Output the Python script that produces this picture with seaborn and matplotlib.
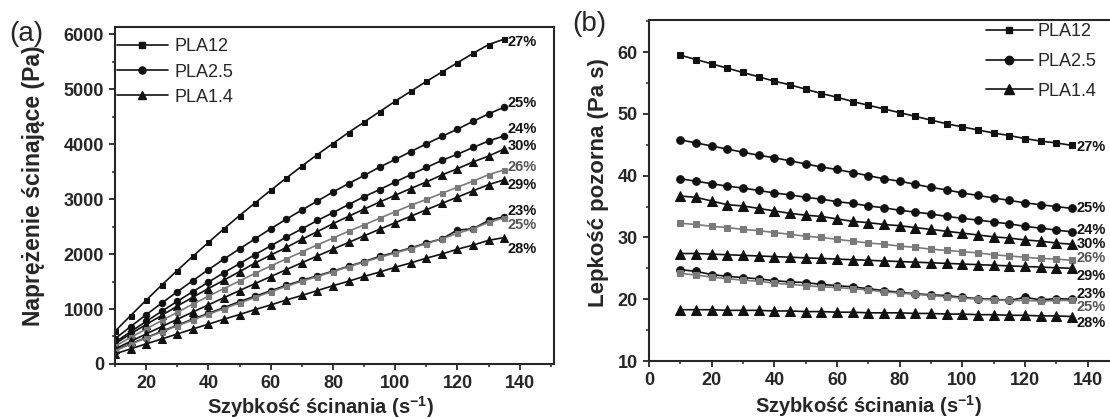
import matplotlib
matplotlib.use('Agg')
import matplotlib.pyplot as plt
import matplotlib.ticker as mticker
from matplotlib.lines import Line2D
import seaborn as sns


# szybkość ścinania (s^-1)
shear_rate = [10, 15, 20, 25, 30, 35, 40, 45, 50, 55, 60, 65, 70,
              75, 80, 85, 90, 95, 100, 105, 110, 115, 120, 125, 130, 135]

# naprężenie ścinające (Pa), panel (a)
stress_pla12_27 = [595, 880, 1160, 1435, 1700, 1960, 2210, 2460, 2700, 2930, 3160, 3380, 3600,
                   3810, 4010, 4210, 4400, 4590, 4780, 4960, 5140, 5310, 5480, 5650, 5810, 5910]
stress_pla25_25 = [458, 680, 896, 1108, 1314, 1516, 1716, 1908, 2095, 2277, 2460, 2633, 2800,
                   2963, 3128, 3281, 3429, 3582, 3720, 3864, 4004, 4140, 4272, 4413, 4550, 4670]
stress_pla25_24 = [395, 587, 774, 958, 1140, 1316, 1488, 1661, 1825, 1991, 2148, 2308, 2457,
                   2610, 2752, 2899, 3042, 3173, 3310, 3444, 3575, 3703, 3816, 3938, 4056, 4150]
stress_pla14_30 = [367, 548, 718, 883, 1053, 1215, 1372, 1526, 1680, 1837, 1980, 2119, 2268,
                   2408, 2552, 2686, 2817, 2945, 3070, 3192, 3311, 3439, 3552, 3675, 3783, 3910]
stress_pla12_26 = [323, 482, 636, 790, 939, 1089, 1232, 1373, 1510, 1650, 1782, 1911, 2037,
                   2168, 2288, 2414, 2529, 2651, 2770, 2888, 2992, 3105, 3216, 3325, 3445, 3530]
stress_pla14_29 = [274, 411, 546, 680, 813, 945, 1076, 1206, 1335, 1463, 1590, 1716, 1841,
                   1965, 2088, 2210, 2331, 2451, 2570, 2688, 2805, 2921, 3036, 3150, 3263, 3350]
stress_pla25_23 = [248, 368, 480, 593, 705, 816, 920, 1026, 1135, 1232, 1332, 1430, 1519,
                   1605, 1688, 1777, 1863, 1957, 2030, 2111, 2200, 2277, 2436, 2460, 2610, 2680]
stress_pla12_25 = [242, 359, 472, 583, 693, 802, 904, 1008, 1110, 1210, 1314, 1411, 1505,
                   1590, 1680, 1768, 1854, 1938, 2020, 2100, 2189, 2277, 2376, 2463, 2574, 2660]
stress_pla14_28 = [183, 275, 366, 455, 546, 637, 724, 815, 900, 990, 1074, 1164, 1246,
                   1335, 1424, 1505, 1593, 1672, 1760, 1838, 1925, 2001, 2088, 2163, 2249, 2300]

# lepkość pozorna (Pa s), panel (b)
visc_pla12_27 = [59.5, 58.8, 58.1, 57.4, 56.7, 56.0, 55.3, 54.7, 54.0, 53.3, 52.7, 52.0, 51.4,
                 50.8, 50.2, 49.6, 49.0, 48.4, 47.9, 47.4, 46.9, 46.5, 46.0, 45.6, 45.3, 44.9]
visc_pla25_25 = [45.8, 45.3, 44.8, 44.3, 43.8, 43.3, 42.9, 42.4, 41.9, 41.4, 41.0, 40.5, 40.0,
                 39.5, 39.1, 38.6, 38.1, 37.7, 37.2, 36.8, 36.4, 36.0, 35.6, 35.3, 35.0, 34.7]
visc_pla25_24 = [39.5, 39.1, 38.7, 38.3, 38.0, 37.6, 37.2, 36.9, 36.5, 36.2, 35.8, 35.5, 35.1,
                 34.8, 34.4, 34.1, 33.8, 33.4, 33.1, 32.8, 32.5, 32.2, 31.8, 31.5, 31.2, 30.9]
visc_pla14_30 = [36.7, 36.5, 35.9, 35.3, 35.1, 34.7, 34.3, 33.9, 33.6, 33.4, 33.0, 32.6, 32.4,
                 32.1, 31.9, 31.6, 31.3, 31.0, 30.7, 30.4, 30.1, 29.9, 29.6, 29.4, 29.1, 28.9]
visc_pla12_26 = [32.3, 32.1, 31.8, 31.6, 31.3, 31.1, 30.8, 30.5, 30.2, 30.0, 29.7, 29.4, 29.1,
                 28.9, 28.6, 28.4, 28.1, 27.9, 27.7, 27.5, 27.2, 27.0, 26.8, 26.6, 26.5, 26.3]
visc_pla14_29 = [27.4, 27.4, 27.3, 27.2, 27.1, 27.0, 26.9, 26.8, 26.7, 26.6, 26.5, 26.4, 26.3,
                 26.2, 26.1, 26.0, 25.9, 25.8, 25.7, 25.6, 25.5, 25.4, 25.3, 25.2, 25.1, 25.0]
visc_pla25_23 = [24.8, 24.5, 24.0, 23.7, 23.5, 23.3, 23.0, 22.8, 22.7, 22.4, 22.2, 22.0, 21.7,
                 21.4, 21.1, 20.9, 20.7, 20.6, 20.3, 20.1, 20.0, 19.8, 20.3, 19.9, 20.1, 20.0]
visc_pla12_25 = [24.2, 23.9, 23.6, 23.3, 23.1, 22.9, 22.6, 22.4, 22.2, 22.0, 21.9, 21.7, 21.5,
                 21.2, 21.0, 20.8, 20.6, 20.4, 20.2, 20.0, 19.9, 19.8, 19.8, 19.7, 19.8, 19.8]
visc_pla14_28 = [18.3, 18.3, 18.3, 18.2, 18.2, 18.2, 18.1, 18.1, 18.0, 18.0, 17.9, 17.9, 17.8,
                 17.8, 17.8, 17.7, 17.7, 17.6, 17.6, 17.5, 17.5, 17.4, 17.4, 17.3, 17.3, 17.2]

materials = ['PLA12', 'PLA2.5', 'PLA1.4']

# (etykieta, materiał, naprężenie, lepkość)
series = [
    ('27%', 'PLA12', stress_pla12_27, visc_pla12_27),
    ('25%', 'PLA2.5', stress_pla25_25, visc_pla25_25),
    ('24%', 'PLA2.5', stress_pla25_24, visc_pla25_24),
    ('30%', 'PLA1.4', stress_pla14_30, visc_pla14_30),
    ('26%', 'PLA12', stress_pla12_26, visc_pla12_26),
    ('29%', 'PLA1.4', stress_pla14_29, visc_pla14_29),
    ('23%', 'PLA2.5', stress_pla25_23, visc_pla25_23),
    ('25%', 'PLA12', stress_pla12_25, visc_pla12_25),
    ('28%', 'PLA1.4', stress_pla14_28, visc_pla14_28),
]

# wygląd
markers = {'PLA12': 's', 'PLA2.5': 'o', 'PLA1.4': '^'}
line_colors = ['#111111', '#111111', '#111111', '#111111', '#7a7a7a',
               '#111111', '#111111', '#7a7a7a', '#111111']
text_colors = ['#111111', '#111111', '#111111', '#111111', '#555555',
               '#111111', '#111111', '#555555', '#111111']
offsets_a = [-2, 3.3, 4.7, 2.4, 2.2, -3.6, 4, -5, -8.6]
offsets_b = [-1.2, 0, 1.4, 0, 1.4, -5.4, 3.6, -5, -4.3]

sns.set_theme(style='ticks')
plt.rcParams['font.family'] = ['Liberation Sans', 'DejaVu Sans']
plt.rcParams['mathtext.default'] = 'regular'
plt.rcParams['axes.linewidth'] = 1.5
plt.rcParams['xtick.major.width'] = 1.3
plt.rcParams['ytick.major.width'] = 1.3
plt.rcParams['xtick.minor.width'] = 1.1
plt.rcParams['ytick.minor.width'] = 1.1
plt.rcParams['xtick.major.size'] = 4.5
plt.rcParams['ytick.major.size'] = 4.5
plt.rcParams['xtick.minor.size'] = 2.5
plt.rcParams['ytick.minor.size'] = 2.5


def draw_panel(ax, which, sizes, offsets, dx):
    for i, (pct, mat, stress, visc) in enumerate(series):
        y = stress if which == 'a' else visc
        col = line_colors[i]
        sns.lineplot(x=shear_rate, y=y, ax=ax, color=col, linewidth=1.2,
                     marker=markers[mat], markersize=sizes[mat],
                     markeredgecolor=col, markerfacecolor=col,
                     estimator=None, sort=False)
        ax.annotate(pct, xy=(shear_rate[-1], y[-1]), xytext=(dx, offsets[i]),
                    textcoords='offset points', ha='left', va='center',
                    fontsize=10.5, fontweight='bold', color=text_colors[i],
                    annotation_clip=False)

    handles = [Line2D([], [], color='#111111', lw=1.2, marker=markers[m],
                      markersize=sizes[m] + 0.5) for m in materials]
    return handles


def style_axes(ax):
    ax.tick_params(which='both', direction='out', labelsize=13)
    for lab in ax.get_xticklabels() + ax.get_yticklabels():
        lab.set_fontweight('bold')
    for side in ['top', 'right']:
        ax.spines[side].set_visible(True)


fig = plt.figure(figsize=(11.1, 4.19), dpi=100)
ax_a = fig.add_axes([0.1036, 0.1313, 0.3955, 0.8043])
ax_b = fig.add_axes([0.5847, 0.1384, 0.4459, 0.8139])

# (a) naprężenie ścinające
h = draw_panel(ax_a, 'a', {'PLA12': 3.6, 'PLA2.5': 4.6, 'PLA1.4': 5.3}, offsets_a, 2.5)
ax_a.set_xlim(10, 151)
ax_a.set_ylim(0, 6130)
ax_a.xaxis.set_major_locator(mticker.MultipleLocator(20))
ax_a.xaxis.set_minor_locator(mticker.MultipleLocator(10))
ax_a.yaxis.set_major_locator(mticker.MultipleLocator(1000))
ax_a.yaxis.set_minor_locator(mticker.MultipleLocator(500))
ax_a.set_xlabel('Szybkość ścinania (s$^{-1}$)', fontsize=14.5, fontweight='bold')
ax_a.set_ylabel('Naprężenie ścinające (Pa)', fontsize=16.5, fontweight='bold')
ax_a.xaxis.set_label_coords(0.467, -0.088)
ax_a.yaxis.set_label_coords(-0.159, 0.53)
ax_a.legend(h, materials, loc='upper left', bbox_to_anchor=(0.005, 0.966), frameon=False,
            fontsize=13, handlelength=2.8, handletextpad=0.4, labelspacing=0.45,
            borderpad=0, borderaxespad=0)
style_axes(ax_a)
fig.text(0.024, 0.92, '(a)', fontsize=20, ha='center', va='center')

# (b) lepkość pozorna
h = draw_panel(ax_b, 'b', {'PLA12': 4.5, 'PLA2.5': 5.5, 'PLA1.4': 6.5}, offsets_b, 3.5)
ax_b.set_xlim(0, 158)
ax_b.set_ylim(10, 65.2)
ax_b.xaxis.set_major_locator(mticker.MultipleLocator(20))
ax_b.xaxis.set_minor_locator(mticker.MultipleLocator(10))
ax_b.yaxis.set_major_locator(mticker.MultipleLocator(10))
ax_b.yaxis.set_minor_locator(mticker.MultipleLocator(5))
ax_b.set_xlabel('Szybkość ścinania (s$^{-1}$)', fontsize=14.5, fontweight='bold')
ax_b.set_ylabel('Lepkość pozorna (Pa s)', fontsize=16, fontweight='bold')
ax_b.xaxis.set_label_coords(0.444, -0.093)
ax_b.yaxis.set_label_coords(-0.081, 0.523)
ax_b.legend(h, materials, loc='upper left', bbox_to_anchor=(0.68, 0.99), frameon=False,
            fontsize=13, handlelength=2.6, handletextpad=0.3, labelspacing=0.7,
            borderpad=0, borderaxespad=0)
style_axes(ax_b)
fig.text(0.5306, 0.943, '(b)', fontsize=20, ha='center', va='center')

fig.savefig('out.png', dpi=100)
